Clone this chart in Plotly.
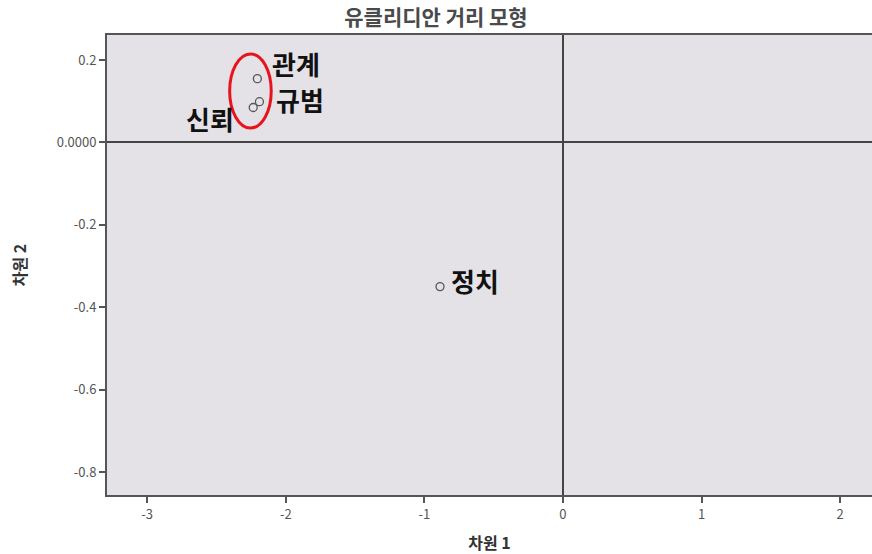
import plotly.graph_objects as go

labels = ["관계", "규범", "신뢰", "정치"]
dim1 = [-2.205, -2.19, -2.235, -0.887]
dim2 = [0.155, 0.099, 0.085, -0.35]

x_tickvals = [-3, -2, -1, 0, 1, 2]
x_ticktext = ["-3", "-2", "-1", "0", "1", "2"]
y_tickvals = [0.2, 0.0, -0.2, -0.4, -0.6, -0.8]
y_ticktext = ["0.2", "0.0000", "-0.2", "-0.4", "-0.6", "-0.8"]

FONT = "Noto Sans CJK KR"

fig = go.Figure()
fig.add_trace(go.Scatter(
    x=dim1, y=dim2, mode="markers",
    marker=dict(symbol="circle-open", size=8, color="#555555", line=dict(width=1.3)),
    showlegend=False, hoverinfo="skip",
))

# label placement (anchor side and pixel offsets) per point
anchors = ["left", "left", "right", "left"]
xshifts = [13, 15, -17, 9]
yshifts = [15, 2, -11, 6]
for lab, xv, yv, an, xs, ys in zip(labels, dim1, dim2, anchors, xshifts, yshifts):
    fig.add_annotation(x=xv, y=yv, xref="x", yref="y", text=lab, showarrow=False,
                       xanchor=an, yanchor="middle", xshift=xs, yshift=ys,
                       font=dict(family=FONT, size=26, color="#111111", weight="bold"))

# red ellipse around the cluster of first three points
cx = dim1[:3]
cy = dim2[:3]
fig.add_shape(type="circle", xref="x", yref="y",
              x0=min(cx) - 0.17, x1=max(cx) + 0.085,
              y0=min(cy) - 0.05, y1=max(cy) + 0.06,
              line=dict(color="#e8141c", width=3))

fig.update_layout(
    width=872, height=554,
    margin=dict(l=107, r=0, t=35, b=59),
    paper_bgcolor="white", plot_bgcolor="#e4e2e7",
    title=dict(text="유클리디안 거리 모형", x=0.5, xref="container", xanchor="center",
               y=0.968, yanchor="middle",
               font=dict(family=FONT, size=21, color="#4a4a4a", weight="bold")),
    font=dict(family=FONT),
)
fig.update_xaxes(
    range=[-3.29, 2.23], tickvals=x_tickvals, ticktext=x_ticktext,
    showgrid=False, zeroline=True, zerolinecolor="#444444", zerolinewidth=2,
    showline=True, linecolor="#555555", linewidth=2, mirror=True,
    ticks="outside", ticklen=6, tickcolor="#555555", tickwidth=2,
    tickfont=dict(size=13, color="#555555"),
    title=dict(text="<b>차원 1</b>", font=dict(size=16, color="#333333"), standoff=16),
)
fig.update_yaxes(
    range=[-0.856, 0.261], tickvals=y_tickvals, ticktext=y_ticktext,
    showgrid=False, zeroline=True, zerolinecolor="#444444", zerolinewidth=2,
    showline=True, linecolor="#555555", linewidth=2, mirror=False,
    ticks="outside", ticklen=6, tickcolor="#555555", tickwidth=2,
    tickfont=dict(size=13, color="#555555"),
    title=dict(text="<b>차원 2</b>", font=dict(size=16, color="#333333"), standoff=26),
)

fig.write_html("out.html")
